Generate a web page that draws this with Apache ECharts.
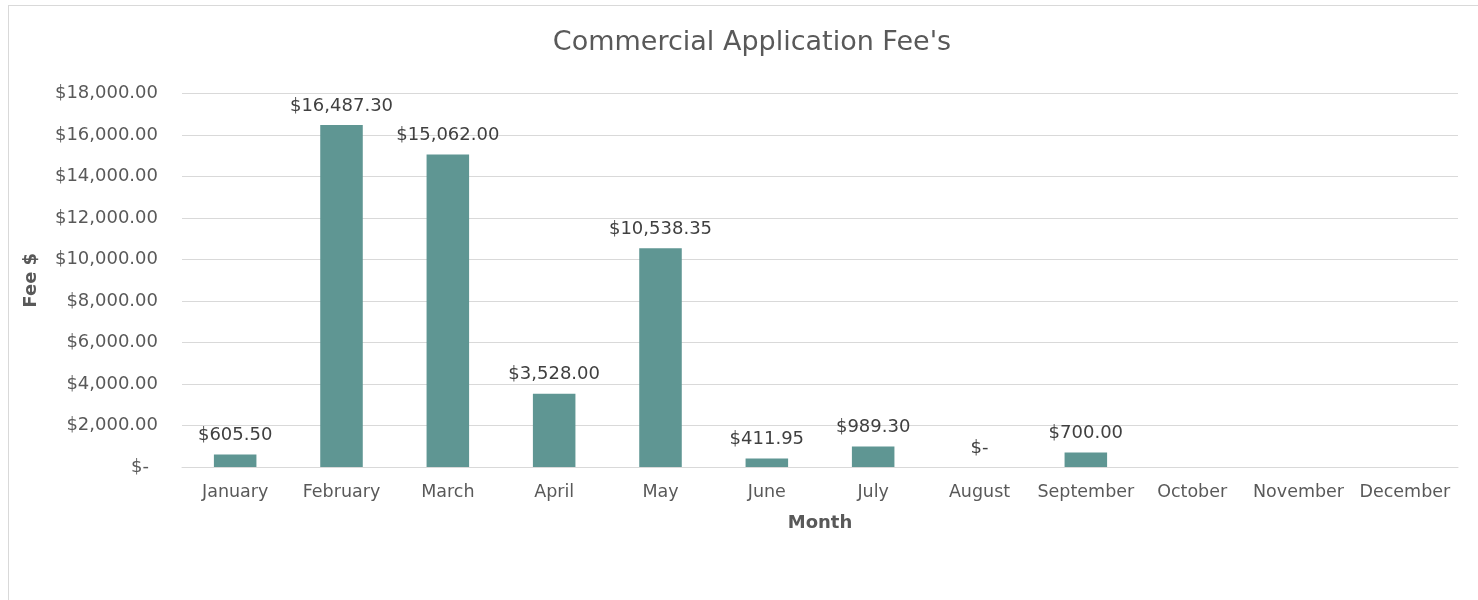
<!DOCTYPE html>
<html>
<head>
<meta charset="utf-8">
<script src="https://cdn.jsdelivr.net/npm/echarts@6/dist/echarts.min.js"></script>
<style>
  html, body { margin: 0; padding: 0; background: #fff; overflow: hidden; }
  #chart {
    position: absolute;
    left: 8px;
    top: 5px;
    width: 1486px;
    height: 620px;
    border: 1px solid #d9d9d9;
  }
</style>
</head>
<body>
<div id="chart"></div>
<script>
const months = ['January', 'February', 'March', 'April', 'May', 'June',
  'July', 'August', 'September', 'October', 'November', 'December']
const fees = [605.50, 16487.30, 15062.00, 3528.00, 10538.35, 411.95,
  989.30, 0, 700.00, null, null, null]
const yTicks = { min: 0, max: 18000, interval: 2000 }

const money = v => {
  if (v === 0) return '$-'
  return '$' + Number(v).toLocaleString('en-US', { minimumFractionDigits: 2, maximumFractionDigits: 2 })
}

const font = 'DejaVu Sans'
const chart = echarts.init(document.getElementById('chart'))
chart.setOption({
  animation: false,
  textStyle: { fontFamily: font },
  title: {
    text: "Commercial Application Fee's",
    left: 'center',
    top: 18,
    textStyle: { fontFamily: font, fontSize: 27, fontWeight: 'normal', color: '#595959' }
  },
  grid: { left: 173, top: 87.5, width: 1276, height: 373.5 },
  xAxis: {
    type: 'category',
    data: months,
    name: 'Month',
    nameLocation: 'middle',
    nameGap: 47,
    nameTextStyle: { fontFamily: font, fontSize: 18, fontWeight: 'bold', color: '#595959' },
    axisLine: { lineStyle: { color: '#d9d9d9', width: 1 } },
    axisTick: { show: false },
    axisLabel: { fontFamily: font, fontSize: 17.5, color: '#595959', margin: 16, interval: 0 }
  },
  yAxis: {
    type: 'value',
    min: yTicks.min,
    max: yTicks.max,
    interval: yTicks.interval,
    name: 'Fee $',
    nameLocation: 'middle',
    nameGap: 142,
    nameTextStyle: { fontFamily: font, fontSize: 18, fontWeight: 'bold', color: '#595959' },
    axisLine: { show: false },
    axisTick: { show: false },
    splitLine: { lineStyle: { color: '#d9d9d9', width: 1 } },
    axisLabel: {
      fontFamily: font, fontSize: 18, color: '#595959', margin: 24,
      formatter: v => v === 0 ? '$-\u2002' : money(v)
    }
  },
  series: [{
    type: 'bar',
    data: fees,
    barWidth: '40%',
    itemStyle: { color: '#5f9693' },
    label: {
      show: true,
      position: 'top',
      distance: 10,
      fontFamily: font,
      fontSize: 18,
      color: '#404040',
      formatter: p => money(p.value)
    }
  }]
})
</script>
</body>
</html>
